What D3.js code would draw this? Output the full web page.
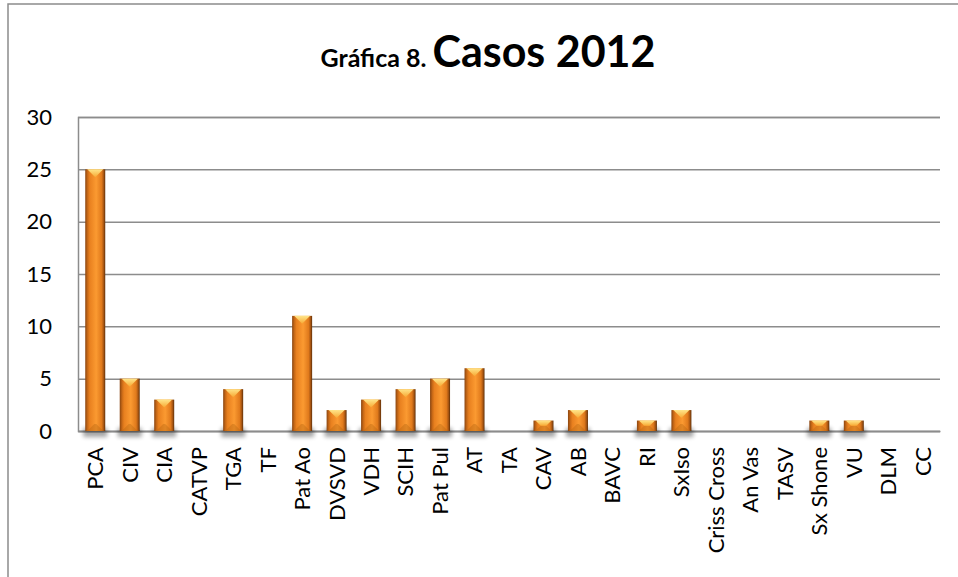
<!DOCTYPE html>
<html>
<head>
<meta charset="utf-8">
<script src="https://cdn.jsdelivr.net/npm/d3@7"></script>
<style>
  body { margin: 0; background: #fff; }
  text { font-family: Lato, "Open Sans", sans-serif; }
</style>
</head>
<body>
<div id="wrapper"></div>
<script>
// data
const categories = ["PCA", "CIV", "CIA", "CATVP", "TGA", "TF", "Pat Ao", "DVSVD", "VDH", "SCIH",
    "Pat Pul", "AT", "TA", "CAV", "AB", "BAVC", "RI", "SxIso", "Criss Cross", "An Vas",
    "TASV", "Sx Shone", "VU", "DLM", "CC"]
const casos = [25, 5, 3, 0, 4, 0, 11, 2, 3, 4, 5, 6, 0, 1, 2, 0, 1, 2, 0, 0, 0, 1, 1, 0, 0]
const yTicks = [0, 5, 10, 15, 20, 25, 30]
const titleSmall = "Gráfica 8."
const titleBig = "Casos 2012"

let dimensions = {
    width: 958,
    height: 577,
    margin: {
        top: 117,
        right: 18,
        bottom: 146,
        left: 78,
    },
}
dimensions.boundedWidth = dimensions.width - dimensions.margin.left - dimensions.margin.right
dimensions.boundedHeight = dimensions.height - dimensions.margin.top - dimensions.margin.bottom

const wrapper = d3.select("#wrapper")
    .append("svg")
    .attr("width", dimensions.width)
    .attr("height", dimensions.height)

// gradients for the bevelled bars
const defs = wrapper.append("defs")
const body = defs.append("linearGradient").attr("id", "barBody")
    .attr("x1", 0).attr("x2", 1).attr("y1", 0).attr("y2", 0)
body.append("stop").attr("offset", "0%").attr("stop-color", "#8a4510")
body.append("stop").attr("offset", "12%").attr("stop-color", "#c96a17")
body.append("stop").attr("offset", "22%").attr("stop-color", "#e8801f")
body.append("stop").attr("offset", "55%").attr("stop-color", "#fb9a31")
body.append("stop").attr("offset", "82%").attr("stop-color", "#e07a1c")
body.append("stop").attr("offset", "92%").attr("stop-color", "#a85612")
body.append("stop").attr("offset", "100%").attr("stop-color", "#5e2f08")

const cap = defs.append("linearGradient").attr("id", "barCap")
    .attr("x1", 0).attr("x2", 0).attr("y1", 0).attr("y2", 1)
cap.append("stop").attr("offset", "0%").attr("stop-color", "#ffe58a")
cap.append("stop").attr("offset", "100%").attr("stop-color", "#f7a933")

const blur = defs.append("filter").attr("id", "shadowBlur")
    .attr("x", "-50%").attr("y", "-50%").attr("width", "200%").attr("height", "200%")
blur.append("feGaussianBlur").attr("stdDeviation", 2.2)

// outer frame
wrapper.append("rect")
    .attr("x", 8)
    .attr("y", 4)
    .attr("width", 980)
    .attr("height", 600)
    .attr("fill", "none")
    .attr("stroke", "#8c8c8c")
    .attr("stroke-width", 1.5)

// title
const title = wrapper.append("text")
    .attr("x", 488)
    .attr("y", 67)
    .attr("text-anchor", "middle")
    .attr("font-weight", "bold")
    .attr("fill", "#000")
title.append("tspan").attr("font-size", "25px").text(titleSmall + " ")
title.append("tspan").attr("font-size", "43px").text(titleBig)

const bounds = wrapper.append("g")
    .style("transform", `translate(${dimensions.margin.left}px, ${dimensions.margin.top}px)`)

const xScale = d3.scaleBand()
    .domain(categories)
    .range([0, dimensions.boundedWidth])
    .paddingInner(0.42)
    .paddingOuter(0.21)

const yScale = d3.scaleLinear()
    .domain([0, 30])
    .range([dimensions.boundedHeight, 0])

// gridlines + y labels
const yAxis = d3.axisLeft(yScale)
    .tickValues(yTicks)
    .tickSize(-dimensions.boundedWidth)
    .tickPadding(26)
const yAxisG = bounds.append("g").call(yAxis)
yAxisG.select(".domain").attr("stroke", "#8c8c8c").attr("stroke-width", 1.5)
yAxisG.selectAll(".tick line").attr("stroke", "#8c8c8c").attr("stroke-width", 1.5)
yAxisG.selectAll(".tick text")
    .attr("font-size", "22px")
    .attr("fill", "#000")
    .style("font-family", "Lato, sans-serif")

// x labels
const xAxis = d3.axisBottom(xScale).tickSize(0).tickPadding(0)
const xAxisG = bounds.append("g")
    .style("transform", `translateY(${dimensions.boundedHeight}px)`)
    .call(xAxis)
xAxisG.select(".domain").attr("stroke", "#8c8c8c").attr("stroke-width", 1.5)
xAxisG.selectAll(".tick text")
    .attr("font-size", "22px")
    .attr("fill", "#000")
    .style("font-family", "Lato, sans-serif")
    .attr("text-anchor", "end")
    .attr("transform", "translate(0,16) rotate(-90)")
    .attr("x", 0)
    .attr("y", 0)
    .attr("dy", "0.36em")

// bars
const barData = categories.map((c, i) => ({ cat: c, value: casos[i] })).filter(d => d.value > 0)
const bars = bounds.append("g").selectAll("g")
    .data(barData)
    .join("g")

bars.append("rect")
    .attr("x", d => xScale(d.cat) - 2)
    .attr("y", dimensions.boundedHeight - 3)
    .attr("width", xScale.bandwidth() + 4)
    .attr("height", 9)
    .attr("fill", "#000")
    .attr("opacity", 0.35)
    .attr("filter", "url(#shadowBlur)")

bars.append("rect")
    .attr("x", d => xScale(d.cat))
    .attr("y", d => yScale(d.value))
    .attr("width", xScale.bandwidth())
    .attr("height", d => yScale(0) - yScale(d.value))
    .attr("fill", "url(#barBody)")

// bottom bevel, faint
bars.append("path")
    .attr("d", d => {
        const x0 = xScale(d.cat) + 2
        const x1 = xScale(d.cat) + xScale.bandwidth() - 2
        const b = yScale(0)
        const h = yScale(0) - yScale(d.value)
        const dep = Math.min(7, h / 2, (x1 - x0) / 2)
        return `M${x0},${b}L${x1},${b}L${x1 - dep},${b - dep}L${x0 + dep},${b - dep}Z`
    })
    .attr("fill", "#b0600f")
    .attr("opacity", 0.35)

// top bevel
bars.append("path")
    .attr("d", d => {
        const x0 = xScale(d.cat) + 2
        const x1 = xScale(d.cat) + xScale.bandwidth() - 2
        const t = yScale(d.value)
        const h = yScale(0) - yScale(d.value)
        const dep = Math.min(8, h / 2, (x1 - x0) / 2)
        return `M${x0},${t}L${x1},${t}L${x1 - dep},${t + dep}L${x0 + dep},${t + dep}Z`
    })
    .attr("fill", "url(#barCap)")
</script>
</body>
</html>
